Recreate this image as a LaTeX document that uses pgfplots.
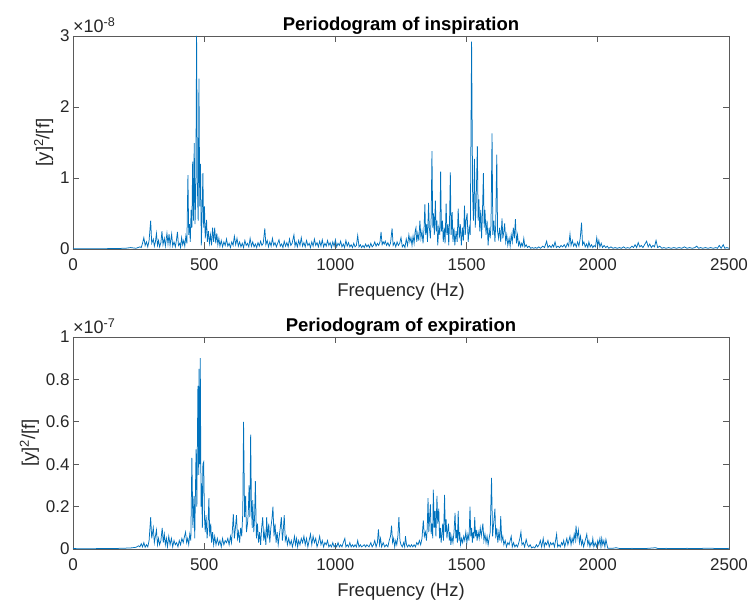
\documentclass[border=0pt]{standalone}
\usepackage{fontspec}
\setmainfont{Liberation Sans}
\usepackage{pgfplots}
\pgfplotsset{compat=1.18}
\definecolor{mblue}{RGB}{0,114,189}
\definecolor{mgray}{RGB}{38,38,38}
\definecolor{mframe}{RGB}{90,90,90}

\pgfplotsset{mstyle/.style={
  scale only axis, width=656pt,
  xmin=0, xmax=2500, ymin=0,
  xtick={0,500,1000,1500,2000,2500},
  tick align=inside, major tick length=6.5pt,
  clip mode=individual,
  axis line style={mframe, line width=0.7pt},
  every tick/.style={mframe, line width=0.7pt},
  tick label style={font=\fontsize{17}{20}\selectfont, text=mgray},
  xticklabel style={yshift=-6pt},
  label style={font=\fontsize{18.5}{22}\selectfont, text=mgray},
  xlabel style={yshift=-6pt},
  title style={font=\bfseries\fontsize{18.5}{22}\selectfont, text=black, yshift=-8pt},
  /pgf/number format/assume math mode=true,
  /pgf/number format/1000 sep={},
  scaled ticks=false,
  xlabel={Frequency (Hz)},
  ylabel={[y]\textsuperscript{2}/[f]},
}}

\begin{document}
\begin{tikzpicture}
\useasboundingbox (0,0) rectangle (752pt,605pt);

\begin{axis}[mstyle, height=213pt, at={(73pt,356pt)}, anchor=south west,
  ymax=3, ytick={0,1,2,3},
  title={Periodogram of inspiration}]
\addplot[mblue, line width=0.75pt, no markers] table {
x y
0 0.005
50 0.003
100 0.004
150 0.006
200 0.010
220 0.020
240 0.010
255 0.030
260 0.02
265 0.08
270 0.16
275 0.05
280 0.10
285 0.03
290 0.12
296 0.40
300 0.08
306 0.14
310 0.04
314 0.10
318 0.22
322 0.05
326 0.12
330 0.03
335 0.09
339 0.25
343 0.06
348 0.15
352 0.04
358 0.22
362 0.07
366 0.21
370 0.05
376 0.21
380 0.04
385 0.10
390 0.03
394 0.12
398 0.24
402 0.05
407 0.08
410 0.02
414 0.16
418 0.06
422 0.12
426 0.04
430 0.18
434 0.08
438 1.04
441 0.20
444 0.35
447 0.10
450 0.55
453 0.30
456 1.23
459 0.40
462 1.49
465 0.35
468 0.80
471 3.00
474 0.90
477 0.40
480 2.40
483 0.60
486 1.20
489 0.05
492 0.50
495 1.07
498 0.30
501 0.60
504 0.15
507 0.30
509 0.41
512 0.10
516 0.25
520 0.08
524 0.20
528 0.05
532 0.30
536 0.10
540 0.30
544 0.08
548 0.22
552 0.06
556 0.15
560 0.04
565 0.12
570 0.03
575 0.10
580 0.05
585 0.14
590 0.04
595 0.08
600 0.02
605 0.10
610 0.05
615 0.18
620 0.06
625 0.15
630 0.04
635 0.10
640 0.03
645 0.08
650 0.02
655 0.12
660 0.05
665 0.08
670 0.03
675 0.15
680 0.04
685 0.10
690 0.03
695 0.07
700 0.02
705 0.09
710 0.04
715 0.11
720 0.05
725 0.08
731 0.29
735 0.06
740 0.12
745 0.03
750 0.10
755 0.04
760 0.15
765 0.05
770 0.09
775 0.03
780 0.08
785 0.13
790 0.04
795 0.07
800 0.02
805 0.11
810 0.04
815 0.09
820 0.03
825 0.14
830 0.05
835 0.08
842 0.20
846 0.04
850 0.10
855 0.03
860 0.12
865 0.05
870 0.16
875 0.04
880 0.09
885 0.03
890 0.12
895 0.05
900 0.08
905 0.02
910 0.10
915 0.04
920 0.14
925 0.05
930 0.09
935 0.03
940 0.11
945 0.04
950 0.13
955 0.03
960 0.08
965 0.04
970 0.12
975 0.05
980 0.09
985 0.02
990 0.10
995 0.04
1000 0.13
1005 0.03
1010 0.08
1015 0.05
1020 0.11
1025 0.03
1030 0.07
1035 0.02
1040 0.12
1045 0.04
1050 0.09
1055 0.03
1060 0.06
1065 0.02
1070 0.08
1075 0.03
1080 0.05
1085 0.19
1090 0.03
1095 0.06
1100 0.02
1105 0.05
1110 0.02
1115 0.07
1120 0.03
1125 0.06
1130 0.02
1135 0.08
1140 0.03
1145 0.05
1150 0.10
1155 0.04
1160 0.08
1165 0.05
1170 0.10
1174 0.24
1178 0.06
1182 0.10
1186 0.07
1190 0.11
1195 0.05
1200 0.09
1205 0.04
1210 0.08
1216 0.29
1220 0.05
1225 0.09
1230 0.03
1235 0.10
1240 0.05
1245 0.08
1250 0.16
1255 0.03
1260 0.06
1265 0.02
1270 0.14
1275 0.05
1280 0.20
1284 0.10
1288 0.16
1292 0.05
1296 0.18
1300 0.08
1304 0.25
1307 0.30
1310 0.10
1314 0.22
1318 0.12
1322 0.40
1326 0.15
1330 0.25
1334 0.08
1338 0.30
1341 0.63
1344 0.20
1348 0.35
1351 0.10
1355 0.65
1358 0.30
1362 0.15
1365 0.45
1368 1.38
1371 0.30
1374 0.50
1377 0.20
1381 0.68
1384 0.25
1387 0.40
1390 0.05
1394 0.30
1398 0.20
1401 1.09
1404 0.25
1408 0.40
1411 0.10
1415 0.30
1418 0.08
1422 0.64
1425 0.20
1429 0.35
1432 0.05
1435 0.40
1438 1.08
1441 0.20
1445 0.52
1448 0.10
1452 0.30
1455 0.05
1460 0.25
1464 0.10
1468 0.57
1472 0.15
1476 0.35
1480 0.05
1484 0.30
1488 0.12
1492 0.61
1495 0.20
1498 0.40
1502 0.50
1506 0.10
1510 0.30
1514 0.20
1519 2.92
1523 0.77
1526 0.40
1530 1.27
1533 0.30
1536 0.60
1541 1.45
1544 0.40
1547 0.70
1550 0.25
1554 0.55
1557 0.15
1560 0.45
1564 1.07
1567 0.30
1570 0.55
1574 0.20
1578 0.40
1582 0.05
1586 0.30
1590 0.15
1593 0.35
1597 1.63
1600 0.20
1604 0.40
1608 0.10
1611 0.35
1615 1.33
1618 0.25
1622 0.15
1626 0.30
1630 0.10
1635 0.43
1638 0.15
1642 0.25
1645 0.36
1649 0.10
1653 0.20
1657 0.05
1662 0.15
1666 0.04
1670 0.20
1674 0.10
1678 0.30
1682 0.15
1686 0.42
1690 0.08
1694 0.20
1698 0.05
1702 0.10
1706 0.03
1710 0.08
1714 0.04
1718 0.15
1722 0.03
1727 0.06
1732 0.02
1738 0.04
1744 0.01
1750 0.02
1756 0.01
1762 0.02
1768 0.01
1775 0.03
1782 0.01
1790 0.04
1797 0.02
1805 0.11
1810 0.02
1816 0.05
1822 0.02
1828 0.06
1832 0.03
1837 0.10
1842 0.02
1848 0.04
1854 0.02
1860 0.05
1866 0.03
1872 0.06
1878 0.02
1884 0.08
1889 0.04
1894 0.21
1898 0.05
1903 0.12
1908 0.04
1913 0.08
1918 0.03
1923 0.10
1928 0.04
1933 0.15
1938 0.37
1942 0.06
1947 0.10
1952 0.03
1957 0.07
1962 0.02
1966 0.10
1971 0.03
1976 0.06
1981 0.02
1986 0.05
1991 0.03
1996 0.16
2000 0.05
2004 0.12
2008 0.03
2013 0.08
2018 0.02
2024 0.05
2030 0.02
2036 0.04
2042 0.01
2050 0.03
2058 0.01
2066 0.02
2074 0.01
2082 0.02
2090 0.01
2098 0.03
2106 0.01
2114 0.02
2122 0.01
2130 0.04
2136 0.02
2142 0.06
2148 0.02
2154 0.09
2160 0.03
2166 0.05
2172 0.02
2178 0.06
2186 0.11
2192 0.03
2198 0.07
2204 0.02
2210 0.05
2216 0.03
2222 0.12
2228 0.02
2236 0.04
2244 0.01
2252 0.02
2260 0.01
2270 0.02
2280 0.01
2290 0.02
2300 0.01
2310 0.02
2320 0.01
2330 0.03
2340 0.01
2350 0.02
2360 0.01
2370 0.02
2377 0.04
2384 0.01
2392 0.02
2400 0.01
2410 0.02
2420 0.01
2430 0.02
2440 0.01
2450 0.02
2456 0.01
2463 0.05
2470 0.01
2478 0.06
2484 0.01
2492 0.02
2500 0.01
};
\node[anchor=south west, inner sep=0pt, yshift=3pt, font=\fontsize{18}{21}\selectfont, text=mgray]
  at (rel axis cs:0,1) {\texttimes10\textsuperscript{-8}};
\end{axis}

\begin{axis}[mstyle, height=212pt, at={(73pt,56pt)}, anchor=south west,
  ymax=1, ytick={0,0.2,0.4,0.6,0.8,1}, yticklabels={0,0.2,0.4,0.6,0.8,1},
  title={Periodogram of expiration}]
\addplot[mblue, line width=0.75pt, no markers] table {
x y
0 0.002
50 0.001
100 0.002
150 0.002
200 0.004
220 0.005
240 0.008
250 0.015
255 0.01
260 0.025
265 0.01
270 0.03
275 0.008
280 0.02
285 0.01
290 0.04
296 0.15
300 0.05
306 0.10
310 0.03
314 0.06
318 0.09
322 0.02
326 0.05
330 0.02
335 0.04
340 0.10
344 0.03
348 0.07
352 0.02
356 0.05
360 0.01
365 0.06
370 0.02
375 0.05
380 0.01
385 0.04
390 0.02
395 0.03
400 0.01
405 0.04
410 0.02
415 0.05
420 0.03
425 0.06
429 0.08
433 0.03
437 0.05
441 0.02
445 0.07
449 0.04
453 0.43
457 0.10
461 0.25
464 0.05
469 0.47
472 0.20
476 0.77
479 0.35
480 0.85
483 0.40
485 0.90
488 0.20
490 0.31
493 0.10
495 0.40
498 0.41
501 0.15
504 0.08
507 0.16
511 0.05
514 0.10
518 0.24
521 0.06
525 0.12
528 0.03
532 0.08
536 0.02
540 0.06
545 0.02
550 0.05
555 0.02
560 0.04
565 0.01
570 0.05
575 0.02
580 0.04
585 0.03
590 0.05
595 0.02
600 0.06
604 0.03
608 0.10
611 0.165
615 0.05
619 0.10
623 0.16
627 0.05
631 0.08
635 0.03
639 0.10
643 0.06
647 0.17
650 0.60
654 0.15
658 0.25
661 0.08
665 0.12
668 0.17
671 0.30
674 0.15
677 0.54
680 0.20
683 0.10
685 0.23
689 0.08
692 0.15
695 0.32
699 0.05
703 0.12
707 0.03
711 0.08
715 0.02
719 0.10
723 0.15
727 0.04
731 0.08
735 0.02
738 0.15
742 0.05
746 0.12
750 0.03
754 0.10
758 0.14
762 0.20
766 0.06
770 0.12
774 0.03
778 0.08
782 0.02
786 0.06
790 0.10
794 0.15
798 0.04
801 0.08
805 0.16
809 0.04
813 0.06
817 0.02
822 0.05
827 0.02
832 0.04
836 0.01
840 0.03
844 0.06
848 0.02
852 0.05
856 0.01
860 0.04
865 0.02
870 0.05
875 0.03
880 0.06
885 0.02
890 0.05
895 0.01
900 0.04
905 0.07
910 0.02
915 0.06
920 0.03
925 0.05
930 0.01
935 0.03
940 0.06
945 0.02
950 0.04
955 0.01
960 0.03
965 0.02
970 0.04
975 0.01
980 0.02
985 0.01
990 0.03
995 0.01
1000 0.02
1005 0.01
1010 0.03
1015 0.01
1020 0.02
1025 0.01
1030 0.03
1036 0.05
1040 0.01
1045 0.02
1050 0.01
1055 0.03
1060 0.01
1065 0.02
1070 0.01
1075 0.02
1080 0.01
1085 0.04
1090 0.01
1095 0.02
1100 0.01
1110 0.02
1115 0.01
1120 0.02
1128 0.01
1135 0.03
1140 0.01
1145 0.02
1150 0.04
1155 0.01
1160 0.03
1164 0.093
1168 0.02
1172 0.05
1176 0.01
1182 0.03
1188 0.01
1194 0.02
1200 0.01
1205 0.04
1210 0.06
1214 0.11
1218 0.03
1222 0.05
1226 0.01
1230 0.04
1234 0.02
1238 0.06
1242 0.15
1246 0.04
1250 0.02
1255 0.01
1260 0.03
1264 0.01
1267 0.06
1271 0.02
1275 0.01
1280 0.02
1285 0.01
1290 0.02
1295 0.01
1300 0.02
1305 0.01
1310 0.03
1315 0.02
1320 0.04
1325 0.02
1330 0.05
1335 0.135
1339 0.06
1343 0.08
1347 0.04
1350 0.10
1353 0.24
1356 0.08
1359 0.15
1362 0.21
1365 0.07
1368 0.12
1371 0.05
1373 0.28
1377 0.10
1380 0.18
1383 0.06
1387 0.25
1390 0.12
1394 0.19
1397 0.05
1400 0.10
1403 0.03
1406 0.07
1409 0.12
1412 0.04
1416 0.255
1419 0.08
1422 0.14
1425 0.05
1428 0.09
1431 0.12
1434 0.04
1437 0.08
1440 0.02
1444 0.06
1448 0.03
1452 0.08
1456 0.17
1459 0.05
1462 0.09
1465 0.03
1468 0.18
1471 0.04
1474 0.08
1477 0.02
1481 0.05
1485 0.03
1489 0.06
1493 0.04
1497 0.08
1501 0.03
1505 0.07
1509 0.04
1513 0.20
1516 0.06
1519 0.10
1522 0.03
1525 0.08
1528 0.05
1531 0.15
1534 0.06
1537 0.09
1540 0.04
1544 0.08
1548 0.05
1552 0.10
1556 0.06
1559 0.09
1562 0.12
1566 0.04
1570 0.07
1574 0.03
1578 0.06
1582 0.02
1586 0.05
1590 0.08
1595 0.336
1599 0.06
1603 0.12
1608 0.19
1611 0.05
1615 0.10
1619 0.03
1623 0.08
1627 0.04
1630 0.155
1634 0.04
1638 0.06
1642 0.02
1647 0.04
1652 0.01
1657 0.03
1662 0.02
1666 0.04
1670 0.06
1674 0.01
1679 0.03
1684 0.01
1689 0.02
1694 0.01
1699 0.03
1703 0.05
1707 0.08
1711 0.02
1716 0.03
1721 0.01
1727 0.045
1732 0.02
1737 0.01
1742 0.02
1748 0.005
1754 0.01
1760 0.005
1766 0.02
1771 0.01
1776 0.02
1781 0.04
1786 0.01
1792 0.05
1796 0.01
1800 0.03
1805 0.02
1810 0.04
1815 0.01
1820 0.03
1825 0.02
1830 0.03
1835 0.01
1839 0.04
1843 0.07
1847 0.01
1852 0.02
1857 0.01
1862 0.03
1866 0.02
1870 0.04
1874 0.01
1878 0.03
1882 0.05
1886 0.02
1890 0.04
1894 0.06
1898 0.02
1902 0.05
1906 0.03
1910 0.07
1914 0.04
1917 0.11
1921 0.05
1926 0.09
1930 0.03
1934 0.06
1938 0.02
1942 0.04
1946 0.01
1950 0.03
1954 0.05
1958 0.07
1962 0.02
1966 0.04
1970 0.01
1974 0.03
1978 0.02
1981 0.05
1985 0.01
1990 0.03
1995 0.01
2000 0.04
2004 0.02
2008 0.05
2012 0.01
2015 0.05
2019 0.02
2023 0.04
2027 0.01
2031 0.045
2035 0.02
2038 0.004
2050 0.003
2060 0.004
2070 0.006
2080 0.003
2100 0.002
2130 0.003
2160 0.002
2190 0.003
2220 0.006
2230 0.002
2260 0.003
2300 0.002
2340 0.003
2380 0.002
2420 0.004
2460 0.002
2500 0.003
};
\node[anchor=south west, inner sep=0pt, yshift=3pt, font=\fontsize{18}{21}\selectfont, text=mgray]
  at (rel axis cs:0,1) {\texttimes10\textsuperscript{-7}};
\end{axis}
\end{tikzpicture}
\end{document}
